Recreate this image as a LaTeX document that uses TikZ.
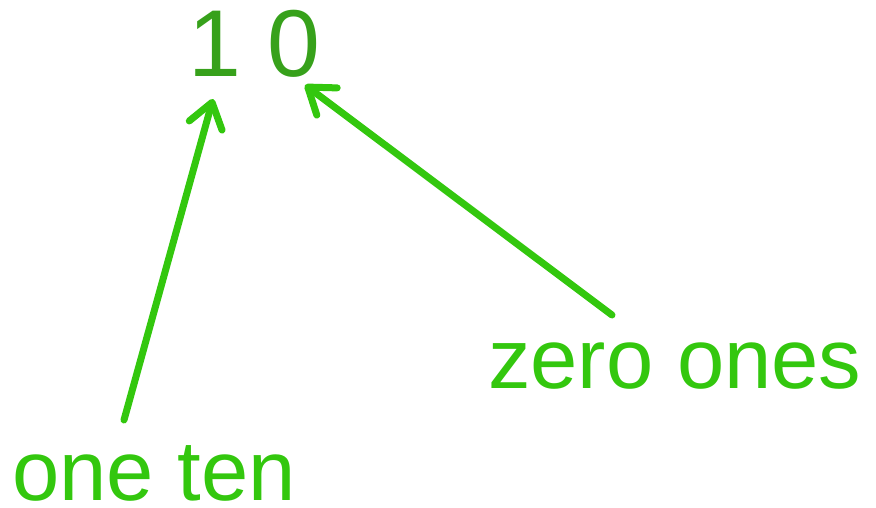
\documentclass[tikz,border=0pt]{standalone}
\usepackage{fontspec}
\setmainfont{Liberation Sans}
\usetikzlibrary{arrows.meta}
\definecolor{digitgreen}{HTML}{37A11B}
\definecolor{labelgreen}{HTML}{33C70E}
\tikzset{
  digits/.style={anchor=base west, inner sep=0pt, text=digitgreen,
    font=\fontsize{95}{95}\selectfont},
  label/.style={anchor=base west, inner sep=0pt, text=labelgreen,
    font=\fontsize{85}{85}\selectfont},
  pointer/.style={draw=labelgreen, line width=7pt, line cap=round,
    -{Straight Barb[length=24pt,width=34pt,round]}},
}
\begin{document}
\begin{tikzpicture}[x=1pt,y=-1pt]
  \useasboundingbox (0,0) rectangle (876,507);
  % the number and its two place-value labels
  \node[digits] (num) at (188,76) {1 0};
  \node[label] (ones) at (488,388) {zero ones};
  \node[label] (ten) at (12,500) {one ten};
  % arrow ends
  \coordinate (tenTail) at (124,420);
  \coordinate (tenTip) at (213,99);
  \coordinate (onesTail) at (612,315);
  \coordinate (onesTip) at (305,85);
  \draw[pointer] (tenTail) -- (tenTip);
  \draw[pointer] (onesTail) -- (onesTip);
\end{tikzpicture}
\end{document}
